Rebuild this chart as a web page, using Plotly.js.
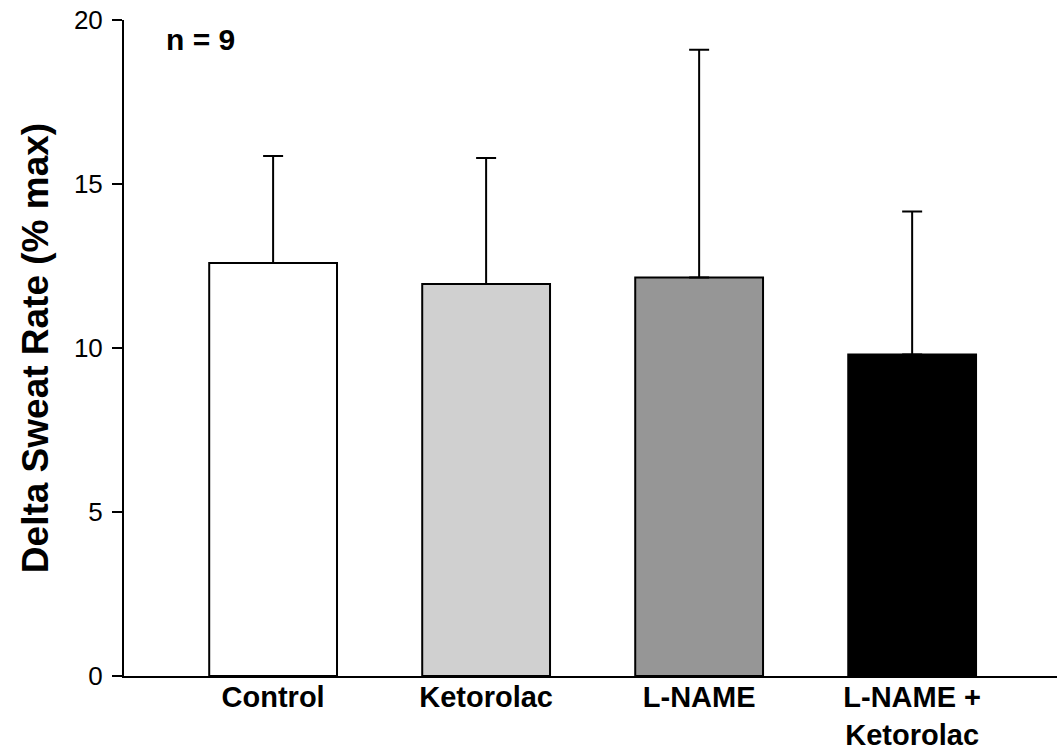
<!DOCTYPE html>
<html><head><meta charset="utf-8">
<script src="https://cdn.plot.ly/plotly-3.0.1.min.js"></script>
<style>body{margin:0;background:#fff}#c{width:1057px;height:750px}</style>
</head><body><div id="c"></div>
<script>
const categories = ["Control", "Ketorolac", "L-NAME", "L-NAME +<br>Ketorolac"];
const means = [12.59, 11.95, 12.15, 9.80];
const errPlus = [3.26, 3.84, 6.94, 4.36];
const barColors = ["#ffffff", "#d0d0d0", "#969696", "#000000"];
const yTicks = [0, 5, 10, 15, 20];

const trace = {
  type: "bar",
  x: [0, 1, 2, 3],
  y: means,
  width: 0.6,
  marker: {color: barColors, line: {color: "#000", width: 2}},
  error_y: {type: "data", symmetric: false, array: errPlus, arrayminus: [0,0,0,0], color: "#000", thickness: 2, width: 10},
  hoverinfo: "none"
};
const layout = {
  width: 1057, height: 750,
  margin: {l: 124, r: 0, t: 20, b: 74},
  paper_bgcolor: "#fff", plot_bgcolor: "#fff",
  showlegend: false,
  font: {family: "Liberation Sans, Arial, sans-serif", color: "#000"},
  xaxis: {
    range: [-0.70, 3.68],
    tickvals: [0, 1, 2, 3], ticktext: categories,
    tickfont: {size: 29, family: "Liberation Sans, Arial, sans-serif", weight: "bold"},
    showline: true, linecolor: "#000", linewidth: 2,
    ticks: "", showgrid: false, zeroline: false, fixedrange: true, ticklabelstandoff: -6
  },
  yaxis: {
    range: [0, 20],
    tickvals: yTicks,
    tickfont: {size: 26},
    ticks: "outside", ticklen: 10, tickwidth: 2, tickcolor: "#000",
    showline: true, linecolor: "#000", linewidth: 2,
    showgrid: false, zeroline: false, ticklabelstandoff: 4,
    title: {text: "<b>Delta Sweat Rate (% max)</b>", font: {size: 37}, standoff: 14}
  },
  annotations: [{
    xref: "paper", yref: "paper", x: 0.043, y: 0.97, xanchor: "left", yanchor: "middle",
    text: "<b>n = 9</b>", showarrow: false, font: {size: 30}
  }]
};
Plotly.newPlot("c", [trace], layout, {displayModeBar: false, staticPlot: true});
</script>
</body></html>
